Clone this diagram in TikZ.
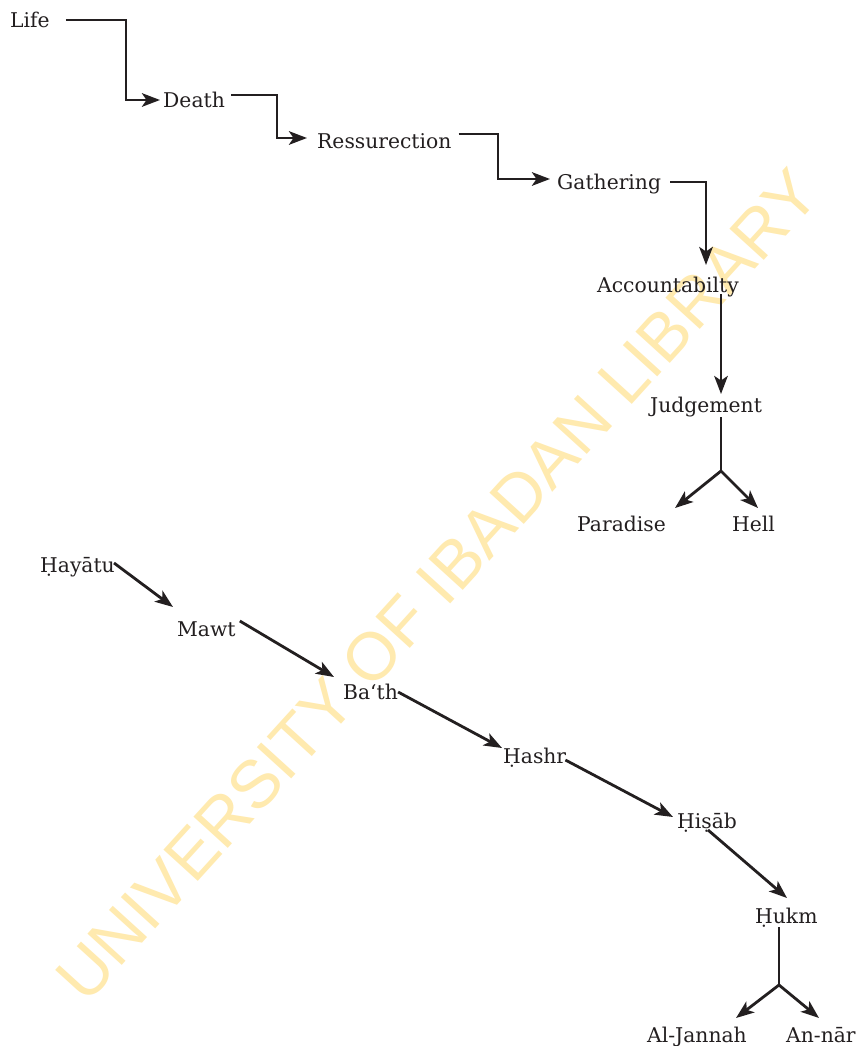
\documentclass[tikz,border=0pt]{standalone}
\usepackage{fontspec}
\setmainfont{DejaVu Serif}
\newfontfamily\wmfont{Liberation Sans}
\usetikzlibrary{arrows.meta}
\definecolor{wm}{RGB}{255,234,175}
\definecolor{ink}{RGB}{35,31,32}
\begin{document}
\begin{tikzpicture}[x=1pt,y=-1pt,
  lbl/.style={inner sep=0pt, anchor=base west, font=\fontsize{20.3}{24}\selectfont, text=ink},
  conn/.style={draw=ink, line width=2.8pt},
  arr/.style={conn, -{Stealth[length=18pt,width=13.5pt,inset=4.5pt]}}]
\useasboundingbox (0,0) rectangle (858,1046);
\fill[white] (0,0) rectangle (858,1046);
% watermark
\node[rotate=47.7, text=wm, inner sep=0pt, font=\wmfont\fontsize{67.5}{70}\selectfont] (wmark) at (437,585) {UNIVERSITY OF IBADAN LIBRARY};
% upper chain
\node[lbl] (life)  at (10,28)   {Life};
\node[lbl] (death) at (163,108) {Death};
\node[lbl] (ress)  at (317,148) {Ressurection};
\node[lbl] (gath)  at (557,189) {Gathering};
\node[lbl] (acc)   at (597,292) {Accountabilty};
\node[lbl] (judg)  at (650,412) {Judgement};
\node[lbl] (par)   at (577,531) {Paradise};
\node[lbl] (hell)  at (732,531) {Hell};
\draw[arr] ([shift={(16,-8)}]life.base east) -| ([shift={(-37,-8)}]death.base west) -- ([shift={(-3,-8)}]death.base west);
\draw[arr] ([shift={(6,-13)}]death.base east) -| ([shift={(-40,-10)}]ress.base west) -- ([shift={(-10,-10)}]ress.base west);
\draw[arr] ([shift={(7,-14)}]ress.base east) -| ([shift={(-59,-10)}]gath.base west) -- ([shift={(-7,-10)}]gath.base west);
\draw[arr] ([shift={(9,-7)}]gath.base east) -| ([shift={(109,-27)}]acc.base west);
\draw[arr] ([shift={(124,2)}]acc.base west) -- ([shift={(71,-18)}]judg.base west);
\coordinate (jfork) at ([shift={(71,59)}]judg.base west);
\draw[conn] ([shift={(71,5)}]judg.base west) -- (jfork);
\draw[arr] (jfork) -- ([shift={(98,-23)}]par.base west);
\draw[arr] (jfork) -- ([shift={(26,-23)}]hell.base west);
% lower chain
\node[lbl] (hay)   at (40,572)   {Ḥayātu};
\node[lbl] (mawt)  at (177,636)  {Mawt};
\node[lbl] (bath)  at (343,699)  {Ba‘th};
\node[lbl] (hashr) at (503,763)  {Ḥashr};
\node[lbl] (hisab) at (677,828)  {Ḥiṣāb};
\node[lbl] (hukm)  at (755,923)  {Ḥukm};
\node[lbl] (jan)   at (647,1042) {Al-Jannah};
\node[lbl] (nar)   at (786,1042) {An-nār};
\draw[arr] ([shift={(-1,-9)}]hay.base east) -- ([shift={(-4,-29)}]mawt.base west);
\draw[arr] ([shift={(4,-15)}]mawt.base east) -- ([shift={(-9,-22)}]bath.base west);
\draw[arr] ([shift={(0,-7)}]bath.base east) -- ([shift={(-1,-15)}]hashr.base west);
\draw[arr] ([shift={(-1,-3)}]hashr.base east) -- ([shift={(-4,-11)}]hisab.base west);
\draw[arr] ([shift={(31,2)}]hisab.base west) -- ([shift={(32,-25)}]hukm.base west);
\coordinate (hfork) at ([shift={(24,62)}]hukm.base west);
\draw[conn] ([shift={(24,4)}]hukm.base west) -- (hfork);
\draw[arr] (hfork) -- ([shift={(89,-24)}]jan.base west);
\draw[arr] (hfork) -- ([shift={(33,-24)}]nar.base west);
\end{tikzpicture}
\end{document}
